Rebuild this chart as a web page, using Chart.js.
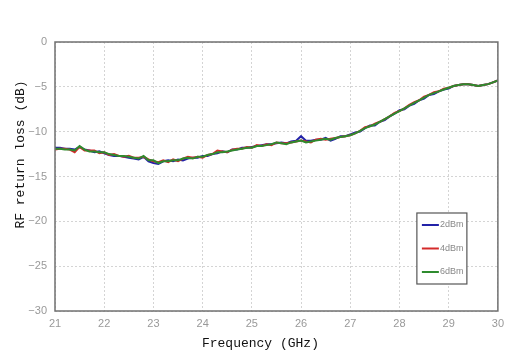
<!DOCTYPE html>
<html>
<head>
<meta charset="utf-8">
<title>RF return loss</title>
<script src="https://cdn.jsdelivr.net/npm/chart.js@4/dist/chart.umd.min.js"></script>
<style>
  html, body { margin: 0; padding: 0; background: #fff; }
  #wrap { width: 510px; height: 354px; }
</style>
</head>
<body>
<div id="wrap"><canvas id="rlChart" width="510" height="354"></canvas></div>
<script>
// --- Measured data (frequency in GHz, return loss in dB) ---
const freqs = [
  21.0, 21.1, 21.2, 21.3, 21.4, 21.5, 21.6, 21.7, 21.8, 21.9,
  22.0, 22.1, 22.2, 22.3, 22.4, 22.5, 22.6, 22.7, 22.8, 22.9,
  23.0, 23.1, 23.2, 23.3, 23.4, 23.5, 23.6, 23.7, 23.8, 23.9,
  24.0, 24.1, 24.2, 24.3, 24.4, 24.5, 24.6, 24.7, 24.8, 24.9,
  25.0, 25.1, 25.2, 25.3, 25.4, 25.5, 25.6, 25.7, 25.8, 25.9,
  26.0, 26.1, 26.2, 26.3, 26.4, 26.5, 26.6, 26.7, 26.8, 26.9,
  27.0, 27.1, 27.2, 27.3, 27.4, 27.5, 27.6, 27.7, 27.8, 27.9,
  28.0, 28.1, 28.2, 28.3, 28.4, 28.5, 28.6, 28.7, 28.8, 28.9,
  29.0, 29.1, 29.2, 29.3, 29.4, 29.5, 29.6, 29.7, 29.8, 29.9,
  30.0
];

const loss2dBm = [
  -11.8, -11.8, -11.9, -11.9, -12.0, -11.7, -12.0, -12.1, -12.3, -12.2,
  -12.4, -12.6, -12.7, -12.7, -12.8, -12.9, -13.0, -13.1, -12.8, -13.3,
  -13.5, -13.6, -13.3, -13.2, -13.3, -13.1, -13.2, -13.0, -12.9, -12.9,
  -12.7, -12.7, -12.5, -12.4, -12.2, -12.3, -12.0, -12.0, -11.8, -11.8,
  -11.7, -11.6, -11.5, -11.4, -11.4, -11.3, -11.2, -11.3, -11.1, -11.0,
  -10.5, -11.0, -11.0, -10.9, -10.9, -10.7, -11.0, -10.8, -10.5, -10.5,
  -10.3, -10.1, -10.0, -9.6, -9.3, -9.3, -8.9, -8.7, -8.3, -8.0,
  -7.6, -7.5, -7.1, -6.9, -6.5, -6.3, -5.9, -5.8, -5.5, -5.3,
  -5.2, -4.9, -4.8, -4.7, -4.7, -4.8, -4.9, -4.8, -4.7, -4.5,
  -4.3
];

const loss4dBm = [
  -12.0, -11.9, -11.9, -12.0, -12.3, -11.7, -12.1, -12.1, -12.1, -12.4,
  -12.3, -12.6, -12.5, -12.7, -12.8, -12.7, -12.9, -12.9, -12.8, -13.1,
  -13.3, -13.4, -13.2, -13.4, -13.1, -13.3, -13.0, -12.8, -12.9, -12.8,
  -12.9, -12.6, -12.5, -12.1, -12.2, -12.3, -12.0, -11.9, -11.9, -11.7,
  -11.8, -11.5, -11.6, -11.4, -11.5, -11.2, -11.3, -11.3, -11.2, -11.1,
  -11.0, -11.1, -11.2, -10.9, -10.8, -10.9, -10.8, -10.7, -10.6, -10.5,
  -10.4, -10.2, -9.9, -9.5, -9.4, -9.1, -8.9, -8.6, -8.3, -7.9,
  -7.7, -7.4, -7.0, -6.7, -6.5, -6.1, -5.9, -5.6, -5.5, -5.2,
  -5.1, -4.9, -4.8, -4.7, -4.7, -4.8, -4.9, -4.8, -4.7, -4.5,
  -4.3
];

const loss6dBm = [
  -11.9, -11.9, -12.0, -12.0, -12.1, -11.6, -12.0, -12.2, -12.2, -12.3,
  -12.3, -12.5, -12.6, -12.7, -12.7, -12.8, -12.9, -13.0, -12.7, -13.2,
  -13.2, -13.5, -13.3, -13.3, -13.2, -13.2, -13.0, -12.9, -13.0, -12.8,
  -12.8, -12.6, -12.5, -12.3, -12.3, -12.2, -12.1, -12.0, -11.9, -11.8,
  -11.8, -11.6, -11.6, -11.5, -11.4, -11.2, -11.3, -11.4, -11.2, -11.1,
  -11.0, -11.2, -11.1, -11.0, -10.9, -10.8, -10.9, -10.7, -10.6, -10.5,
  -10.4, -10.2, -9.9, -9.6, -9.4, -9.2, -8.9, -8.6, -8.3, -8.0,
  -7.7, -7.4, -7.1, -6.8, -6.5, -6.2, -5.9, -5.7, -5.5, -5.3,
  -5.1, -4.9, -4.8, -4.7, -4.7, -4.8, -4.9, -4.8, -4.7, -4.5,
  -4.3
];

const seriesLabels = ['2dBm', '4dBm', '6dBm'];
const seriesColors = ['#2222a8', '#d42a2a', '#2e8b2e'];

const xTicks = [21, 22, 23, 24, 25, 26, 27, 28, 29, 30];
const yTicks = [0, -5, -10, -15, -20, -25, -30];

const xTitle = 'Frequency (GHz)';
const yTitle = 'RF return loss (dB)';

const titleFont = '13px "Liberation Mono", monospace';

function toPoints(values) {
  return values.map((v, i) => ({ x: freqs[i], y: v }));
}

// --- Plugins: frame, axis titles, boxed legend inside the plot ---
const framePlugin = {
  id: 'frame',
  afterDatasetsDraw(chart) {
    const { ctx, chartArea: a } = chart;
    ctx.save();
    ctx.strokeStyle = '#707070';
    ctx.lineWidth = 1.5;
    ctx.strokeRect(a.left, a.top, a.right - a.left, a.bottom - a.top);
    ctx.restore();
  }
};

// titles sit a little off the plot centre, so they are drawn by hand
const axisTitlePlugin = {
  id: 'axisTitles',
  afterDraw(chart) {
    const { ctx, chartArea: a } = chart;
    ctx.save();
    ctx.font = titleFont;
    ctx.fillStyle = '#111';
    ctx.textAlign = 'center';
    ctx.textBaseline = 'middle';
    ctx.fillText(xTitle, (a.left + a.right) / 2 - 16, a.bottom + 33);
    ctx.translate(21, (a.top + a.bottom) / 2 - 22);
    ctx.rotate(-Math.PI / 2);
    ctx.fillText(yTitle, 0, 0);
    ctx.restore();
  }
};

const boxLegendPlugin = {
  id: 'boxLegend',
  afterDraw(chart) {
    const { ctx, chartArea: a } = chart;
    const left = a.right - 81;
    const top = a.top + 171;
    const w = 50, h = 71;
    ctx.save();
    ctx.fillStyle = '#fff';
    ctx.fillRect(left, top, w, h);
    ctx.strokeStyle = '#555';
    ctx.lineWidth = 1.2;
    ctx.strokeRect(left, top, w, h);
    ctx.font = '9px "Liberation Sans", sans-serif';
    ctx.textBaseline = 'middle';
    chart.data.datasets.forEach((ds, i) => {
      const y = top + 12 + i * 23.5;
      ctx.strokeStyle = ds.borderColor;
      ctx.lineWidth = 2;
      ctx.beginPath();
      ctx.moveTo(left + 5, y);
      ctx.lineTo(left + 22, y);
      ctx.stroke();
      ctx.fillStyle = '#888';
      ctx.fillText(ds.label, left + 23, y);
    });
    ctx.restore();
  }
};

const ctx = document.getElementById('rlChart').getContext('2d');

new Chart(ctx, {
  type: 'line',
  data: {
    datasets: [loss2dBm, loss4dBm, loss6dBm].map((vals, i) => ({
      label: seriesLabels[i],
      data: toPoints(vals),
      borderColor: seriesColors[i],
      backgroundColor: seriesColors[i],
      borderWidth: 2,
      pointRadius: 0,
      tension: 0,
      fill: false,
      order: 2 - i
    }))
  },
  options: {
    responsive: false,
    animation: false,
    layout: { padding: { left: 8, right: 12, top: 42, bottom: 0 } },
    plugins: {
      legend: { display: false },
      tooltip: { enabled: false }
    },
    scales: {
      x: {
        type: 'linear',
        min: 21,
        max: 30,
        afterBuildTicks(scale) {
          scale.ticks = xTicks.map(v => ({ value: v }));
        },
        afterFit(scale) { scale.height = 43; },
        ticks: {
          color: '#999',
          font: { family: '"Liberation Sans", sans-serif', size: 11 },
          padding: 6
        },
        grid: { color: '#d4d4d4', lineWidth: 1, drawTicks: false },
        border: { display: false, dash: [2, 2] }
      },
      y: {
        type: 'linear',
        min: -30,
        max: 0,
        afterBuildTicks(scale) {
          scale.ticks = yTicks.map(v => ({ value: v }));
        },
        afterFit(scale) { scale.width = 47; },
        ticks: {
          color: '#999',
          font: { family: '"Liberation Sans", sans-serif', size: 11 },
          padding: 8,
          callback: v => String(v).replace('-', '\u2212')
        },
        grid: { color: '#d4d4d4', lineWidth: 1, drawTicks: false },
        border: { display: false, dash: [2, 2] }
      }
    }
  },
  plugins: [framePlugin, axisTitlePlugin, boxLegendPlugin]
});
</script>
</body>
</html>
